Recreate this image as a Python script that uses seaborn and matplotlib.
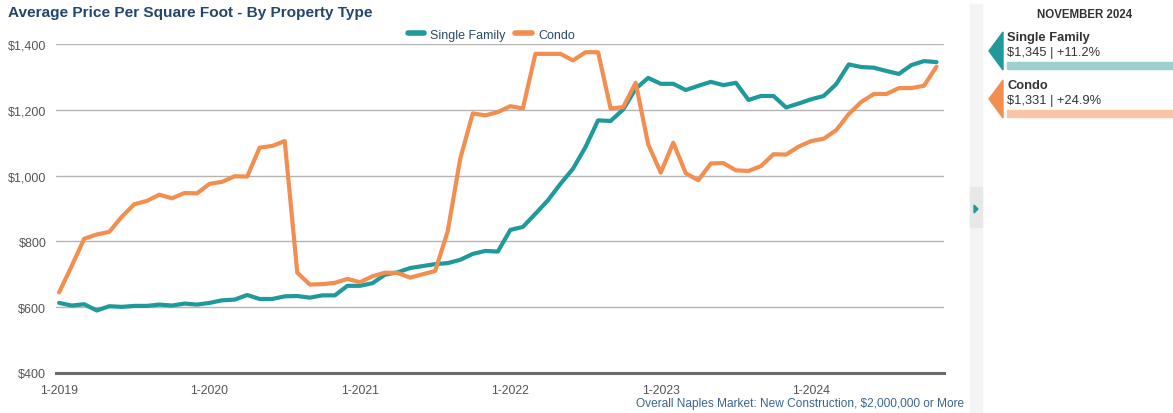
import pandas as pd
import matplotlib.pyplot as plt
import seaborn as sns
from matplotlib.patches import Rectangle, Polygon
from matplotlib.ticker import FuncFormatter

# monthly values Jan 2019 .. Nov 2024
months = list(range(71))
single_family = [613, 605, 609, 590, 603, 601, 604, 604, 608, 605, 611, 608,
                 613, 621, 623, 637, 625, 625, 633, 634, 629, 636,
                 636, 665, 665, 673, 699, 706, 719, 725, 731, 734, 744, 762,
                 771, 769, 835, 844, 884, 925, 975, 1021, 1087, 1168, 1166, 1201,
                 1264, 1297, 1279, 1279, 1260, 1273, 1285, 1275, 1282, 1230, 1242,
                 1242, 1207, 1219, 1232, 1242, 1278, 1338, 1330, 1328, 1318, 1309,
                 1336, 1348, 1345]
condo = [645, 725, 808, 821, 829, 875, 913, 923, 942, 931, 947, 946,
         975, 981, 998, 997, 1085, 1090, 1105, 705, 669, 670,
         674, 686, 676, 694, 705, 704, 690, 700, 710, 830, 1051, 1189,
         1183, 1193, 1211, 1204, 1370, 1370, 1370, 1350, 1375, 1375, 1204, 1208,
         1282, 1095, 1009, 1100, 1007, 986, 1037, 1038, 1016, 1014, 1029,
         1065, 1064, 1088, 1105, 1112, 1138, 1187, 1224, 1248, 1248, 1266,
         1266, 1273, 1331]
series_names = ['Single Family', 'Condo']
colors = ['#1f999b', '#f28e50']
tick_pos = [0, 12, 24, 36, 48, 60]
tick_labels = ['1-2019', '1-2020', '1-2021', '1-2022', '1-2023', '1-2024']
y_ticks = [400, 600, 800, 1000, 1200, 1400]
summary = ['$1,345 | +11.2%', '$1,331 | +24.9%']

df = pd.DataFrame({'month': months * 2,
                   'price': single_family + condo,
                   'type': [series_names[0]] * 71 + [series_names[1]] * 71})

sns.set_style('white')
plt.rcParams['font.family'] = ['Liberation Sans', 'DejaVu Sans']

W, H = 1173, 414
fig = plt.figure(figsize=(W / 100, H / 100), dpi=100)
ax = fig.add_axes([56 / W, 1 - 374 / H, (944 - 56) / W, (374 - 45) / H])

sns.lineplot(data=df, x='month', y='price', hue='type', palette=colors,
             linewidth=3, ax=ax, legend=True)

ax.set_xlim(-0.25, 70.6)
ax.set_ylim(400, 1400)
ax.set_xticks(tick_pos)
ax.set_xticklabels(tick_labels)
ax.set_yticks(y_ticks)
ax.yaxis.set_major_formatter(FuncFormatter(lambda v, p: '${:,.0f}'.format(v)))
ax.set_xlabel('')
ax.set_ylabel('')
ax.yaxis.grid(True, color='#b5b5b5', lw=1)
ax.set_axisbelow(True)
for s in ['top', 'right', 'left']:
    ax.spines[s].set_visible(False)
ax.spines['bottom'].set_color('#6b6b6b')
ax.spines['bottom'].set_linewidth(2.2)
ax.tick_params(axis='x', direction='out', length=5, width=1.8, color='#6b6b6b',
               labelsize=8.8, labelcolor='#555555', pad=3)
ax.tick_params(axis='y', length=0, labelsize=9, labelcolor='#555555', pad=7)

sns.move_legend(ax, 'lower center', bbox_to_anchor=(0.49, 0.995), ncol=2,
                frameon=False, title=None, fontsize=9, handlelength=1.3,
                columnspacing=0.8, handletextpad=0.5, borderaxespad=0)
for t in ax.get_legend().get_texts():
    t.set_color('#2b4a6b')
for l in ax.get_legend().get_lines():
    l.set_linewidth(4)

fig.text(8 / W, 1 - 13 / H, 'Average Price Per Square Foot - By Property Type',
         fontsize=11.1, fontweight='bold', color='#23466b', va='center')
fig.text(964 / W, 1 - 404 / H, 'Overall Naples Market: New Construction, $2,000,000 or More',
         fontsize=8.6, color='#3b6491', ha='right', va='center')

# right side panel
fig.patches.append(Rectangle((970 / W, 0), 12 / W, 1 - 5 / H, transform=fig.transFigure,
                             color='#f4f4f4', zorder=0))
fig.patches.append(Rectangle((970 / W, 1 - 228 / H), 12 / W, 40 / H, transform=fig.transFigure,
                             color='#e8e8e8', zorder=1))
fig.patches.append(Polygon([(974 / W, 1 - 206 / H), (978 / W, 1 - 210 / H), (974 / W, 1 - 214 / H)],
                           closed=True, transform=fig.transFigure, color=colors[0], zorder=2))
fig.text(1085 / W, 1 - 15 / H, 'NOVEMBER 2024', fontsize=8.3, fontweight='bold',
         color='#333333', ha='center', va='center')
bar_colors = ['#9dcfcf', '#f8c5a8']
for i, name in enumerate(series_names):
    y0 = 33 + i * 48
    fig.patches.append(Polygon([(989 / W, 1 - (y0 + 19) / H), (1003 / W, 1 - y0 / H),
                                (1003 / W, 1 - (y0 + 38) / H)], closed=True,
                               transform=fig.transFigure, color=colors[i]))
    fig.text(1007 / W, 1 - (y0 + 5) / H, name, fontsize=9.3, fontweight='bold',
             color='#333333', va='center')
    fig.text(1007 / W, 1 - (y0 + 20) / H, summary[i], fontsize=9.3,
             color='#333333', va='center')
    fig.patches.append(Rectangle((1007 / W, 1 - (y0 + 37) / H), (W - 1007) / W, 7 / H,
                                 transform=fig.transFigure, color=bar_colors[i]))

fig.savefig('out.png', dpi=100)
